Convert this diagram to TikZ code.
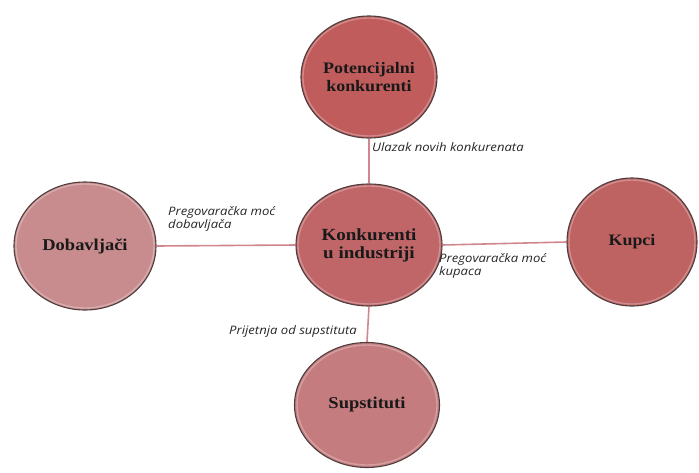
\documentclass[tikz,border=0pt]{standalone}
\usepackage{fontspec}
\setmainfont[FakeStretch=1.12]{Liberation Serif}
\newfontfamily\lblfont[FakeStretch=1.12]{Open Sans}
\usetikzlibrary{shapes.geometric}
\definecolor{edgegray}{RGB}{80,62,62}
\definecolor{linkpink}{RGB}{208,134,142}
\definecolor{redtop}{RGB}{192,92,92}
\definecolor{redmid}{RGB}{192,102,104}
\definecolor{redright}{RGB}{190,98,98}
\definecolor{pinkleft}{RGB}{200,140,142}
\definecolor{pinkbot}{RGB}{196,124,126}
\begin{document}
\begin{tikzpicture}[x=1pt,y=-1pt,
    circ/.style={ellipse, draw=edgegray, line width=1.1pt, inner sep=0pt, align=center,
      text=black!90, font=\bfseries\fontsize{16}{17.5}\selectfont},
    hilite/.style={draw=white, opacity=.28, line width=1.4pt},
    link/.style={draw=linkpink, line width=1.6pt},
    lbl/.style={anchor=west, align=left, inner sep=0pt, text=black!85,
      font=\lblfont\itshape\fontsize{11.7}{12.5}\selectfont}]
  \useasboundingbox (0,0) rectangle (699,472);
  % forces
  \node[circ, fill=redtop, minimum width=136, minimum height=122] (pot) at (369,77) {Potencijalni\\konkurenti};
  \node[circ, fill=redmid, minimum width=146, minimum height=122,
    font=\bfseries\fontsize{17}{18}\selectfont] (ind) at (369,245) {Konkurenti\\u industriji};
  \node[circ, fill=pinkleft, minimum width=142, minimum height=128,
    font=\bfseries\fontsize{16.5}{18}\selectfont] (dob) at (85,246) {Dobavljači};
  \node[circ, fill=redright, minimum width=130, minimum height=128] (kup) at (632,242) {Kupci};
  \node[circ, fill=pinkbot, minimum width=145, minimum height=125,
    font=\bfseries\fontsize{16.5}{18}\selectfont] (sup) at (367,405) {Supstituti};
  \foreach \n/\rx/\ry in {pot/66/59, ind/71/59, dob/69/62, kup/63/62, sup/70/60}
    \draw[hilite] (\n.center) ellipse [x radius=\rx, y radius=\ry];
  % links
  \draw[link] (pot.south) -- (ind.north);
  \draw[link] (ind.west) -- (dob.east);
  \draw[link] (ind.east) -- (kup.west);
  \draw[link] (ind.south) -- (sup.north);
  % labels
  \node[lbl] (ulazak) at (372,147) {Ulazak novih konkurenata};
  \node[lbl] (pmdob) at (168,219) {Pregovaračka moć\\dobavljača};
  \node[lbl] (pmkup) at (439,266) {Pregovaračka moć\\kupaca};
  \node[lbl] (prij) at (229,331) {Prijetnja od supstituta};
\end{tikzpicture}
\end{document}
